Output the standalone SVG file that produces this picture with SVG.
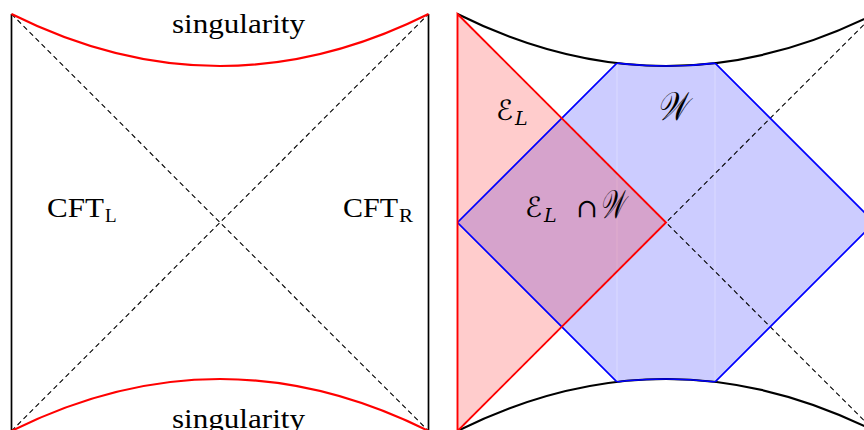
<svg xmlns="http://www.w3.org/2000/svg" width="864" height="430" viewBox="0 0 864 430">
<style>
.edge{stroke:#000;stroke-width:1.7;fill:none}
.sing{stroke:#f00;stroke-width:2.2;fill:none}
.hor{stroke:#000;stroke-width:1.1;stroke-dasharray:5,3.5;fill:none}
.blk{stroke:#000;stroke-width:2.2;fill:none}
.blue{stroke:#00f;stroke-width:1.7;fill:none}
.lbl{font-family:"Liberation Serif","DejaVu Serif",serif;fill:#000}
.math{font-family:"DejaVu Serif","DejaVu Sans",serif;font-style:italic;fill:#000}
</style>
<defs>
<clipPath id="bulk"><path d="M457.5,14 Q666,118 874.5,14 L874.5,431 Q666,327 457.5,431 Z"/></clipPath>
<clipPath id="dia"><path d="M457.5,222.5 L666,14 L874.5,222.5 L666,431 Z"/></clipPath>
</defs>
<rect width="864" height="430" fill="#fff"/>

<g id="left-diagram">
  <g id="connectors-left">
    <line class="hor" x1="11.5" y1="14" x2="428.5" y2="431"/>
    <line class="hor" x1="11.5" y1="431" x2="428.5" y2="14"/>
  </g>
  <g id="cft-left-edge"><line class="edge" x1="11.5" y1="14" x2="11.5" y2="431"/></g>
  <g id="cft-right-edge"><line class="edge" x1="428.5" y1="14" x2="428.5" y2="431"/></g>
  <g id="singularity-top">
    <path class="sing" d="M11.5,14 Q220,118 428.5,14"/>
    <text class="lbl" x="238.5" y="33" font-size="27" text-anchor="middle" textLength="133" lengthAdjust="spacingAndGlyphs">singularity</text>
  </g>
  <g id="singularity-bottom">
    <path class="sing" d="M11.5,431 Q220,327 428.5,431"/>
    <text class="lbl" x="238.5" y="428" font-size="27" text-anchor="middle" textLength="133" lengthAdjust="spacingAndGlyphs">singularity</text>
  </g>
  <g id="label-cftl">
    <text class="lbl" x="47" y="217" font-size="27" textLength="57" lengthAdjust="spacingAndGlyphs">CFT</text>
    <text class="lbl" x="105" y="222" font-size="19">L</text>
  </g>
  <g id="label-cftr">
    <text class="lbl" x="343" y="217" font-size="27" textLength="55" lengthAdjust="spacingAndGlyphs">CFT</text>
    <text class="lbl" x="399" y="222" font-size="19" textLength="14" lengthAdjust="spacingAndGlyphs">R</text>
  </g>
</g>

<g id="right-diagram">
  <g id="region-W">
    <path d="M457.5,222.5 L666,14 L874.5,222.5 L666,431 Z" fill="#00f" fill-opacity="0.2" clip-path="url(#bulk)"/>
    <g clip-path="url(#bulk)">
      <g clip-path="url(#dia)">
        <line x1="617" y1="0" x2="617" y2="430" stroke="#fff" stroke-opacity="0.3" stroke-width="1"/>
        <line x1="715" y1="0" x2="715" y2="430" stroke="#fff" stroke-opacity="0.3" stroke-width="1"/>
      </g>
    </g>
  </g>
  <g id="region-EL">
    <path d="M457.5,14 L666,222.5 L457.5,431 Z" fill="#f00" fill-opacity="0.2"/>
  </g>
  <g id="connectors-right">
    <line class="hor" x1="457.5" y1="14" x2="874.5" y2="431"/>
    <line class="hor" x1="457.5" y1="431" x2="874.5" y2="14"/>
  </g>
  <g id="singularities-right">
    <path class="blk" d="M457.5,14 Q666,118 874.5,14"/>
    <path class="blk" d="M457.5,431 Q666,327 874.5,431"/>
  </g>
  <g id="W-boundary">
    <path class="blue" d="M457.5,222.5 L666,14 L874.5,222.5 L666,431 Z" clip-path="url(#bulk)"/>
    <g clip-path="url(#dia)">
      <path class="blue" stroke-width="2.2" d="M457.5,14 Q666,118 874.5,14"/>
      <path class="blue" stroke-width="2.2" d="M457.5,431 Q666,327 874.5,431"/>
    </g>
  </g>
  <g id="EL-boundary">
    <path d="M457.5,14 L666,222.5 L457.5,431 Z" fill="none" stroke="#f00" stroke-width="1.9" stroke-linejoin="miter"/>
  </g>
  <g id="label-EL">
    <text class="math" x="496" y="120" font-size="28">ℰ</text>
    <text class="math" x="515" y="125" font-size="19">L</text>
  </g>
  <g id="label-W">
    <text class="math" x="657" y="120" font-size="40" textLength="30" lengthAdjust="spacingAndGlyphs">𝒲</text>
  </g>
  <g id="label-ELW">
    <text class="math" x="525" y="217" font-size="28">ℰ</text>
    <text class="math" x="544" y="222" font-size="19">L</text>
    <text class="math" x="576" y="217" font-size="26" font-style="normal">∩</text>
    <text class="math" x="600" y="218" font-size="40" textLength="24" lengthAdjust="spacingAndGlyphs">𝒲</text>
  </g>
</g>
</svg>
